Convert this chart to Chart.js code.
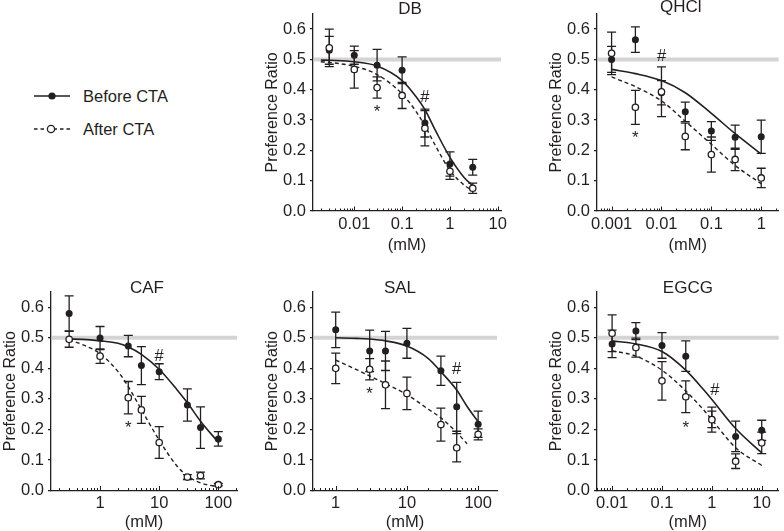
<!DOCTYPE html>
<html>
<head>
<meta charset="utf-8">
<script src="https://cdn.jsdelivr.net/npm/chart.js@4.4.0/dist/chart.umd.min.js"></script>
<style>
  body { margin: 0; background: #fff; width: 784px; height: 531px; position: relative; overflow: hidden;
         font-family: 'Liberation Sans', Arial, sans-serif; color: #231f20; }
  canvas { position: absolute; }
  .leg { position: absolute; left: 0; width: 200px; height: 20px; }
  .leg svg { position: absolute; left: 30px; top: 2px; }
  .leg span { position: absolute; left: 83px; top: 0; font-size: 16.5px; line-height: 20px; white-space: nowrap; }
</style>
</head>
<body>
<div class="leg" style="top:86px">
  <svg width="44" height="16"><line x1="4" y1="8" x2="40" y2="8" stroke="#231f20" stroke-width="1.5"/><circle cx="22" cy="8" r="3.6" fill="#231f20"/></svg>
  <span>Before CTA</span>
</div>
<div class="leg" style="top:119px">
  <svg width="44" height="16"><line x1="4" y1="8" x2="40" y2="8" stroke="#231f20" stroke-width="1.4" stroke-dasharray="3.5 3"/><circle cx="21" cy="8" r="3.6" fill="#fff" stroke="#231f20" stroke-width="1.3"/></svg>
  <span>After CTA</span>
</div>

<canvas id="db" width="250" height="255" style="left:263px;top:0px"></canvas>
<canvas id="qhcl" width="237" height="255" style="left:547px;top:0px"></canvas>
<canvas id="caf" width="248" height="262" style="left:1px;top:270px"></canvas>
<canvas id="sal" width="246" height="262" style="left:263px;top:270px"></canvas>
<canvas id="egcg" width="237" height="262" style="left:547px;top:270px"></canvas>

<script>
// y ticks shared by all panels
const yTicks = [0, 0.1, 0.2, 0.3, 0.4, 0.5, 0.6];

// DB
const dbConc = [0.003, 0.01, 0.03, 0.1, 0.3, 1, 3];
const dbBefore = [0.53, 0.514, 0.481, 0.464, 0.29, 0.155, 0.144];
const dbBeforeErr = [0.046, 0.03, 0.052, 0.044, 0.046, 0.04, 0.026];
const dbAfter = [0.538, 0.467, 0.407, 0.381, 0.273, 0.131, 0.075];
const dbAfterErr = [0.062, 0.062, 0.035, 0.043, 0.058, 0.027, 0.017];
const dbFitX = [0.002, 0.003, 0.01, 0.03, 0.1, 0.2, 0.3, 0.5, 1, 2, 3];
const dbFitBefore = [0.498, 0.497, 0.492, 0.478, 0.43, 0.375, 0.334, 0.265, 0.177, 0.11, 0.084];
const dbFitAfter = [0.492, 0.49, 0.477, 0.45, 0.386, 0.326, 0.281, 0.215, 0.134, 0.085, 0.067];
const dbTicks = [0.01, 0.1, 1, 10];

// QHCl
const qhConc = [0.001, 0.003, 0.01, 0.03, 0.1, 0.3, 1];
const qhBefore = [0.50, 0.565, 0.39, 0.327, 0.264, 0.243, 0.245];
const qhBeforeErr = [0.043, 0.042, 0.04, 0.032, 0.031, 0.04, 0.055];
const qhAfter = [0.52, 0.342, 0.393, 0.246, 0.186, 0.17, 0.109];
const qhAfterErr = [0.07, 0.056, 0.082, 0.044, 0.058, 0.037, 0.032];
const qhFitX = [0.001, 0.003, 0.01, 0.03, 0.1, 0.3, 1];
const qhFitBefore = [0.467, 0.453, 0.43, 0.39, 0.322, 0.255, 0.188];
const qhFitAfter = [0.442, 0.41, 0.363, 0.296, 0.22, 0.15, 0.09];
const qhTicks = [0.001, 0.01, 0.1, 1];

// CAF
const cafConc = [0.3, 1, 3, 5, 10, 30, 50, 100];
const cafBefore = [0.58, 0.499, 0.473, 0.409, 0.389, 0.28, 0.206, 0.169];
const cafBeforeErr = [0.057, 0.038, 0.035, 0.062, 0.026, 0.053, 0.068, 0.024];
const cafAfter = [0.495, 0.44, 0.304, 0.264, 0.157, 0.044, 0.049, 0.019];
const cafAfterErr = [0.026, 0.024, 0.053, 0.044, 0.052, 0.008, 0.011, 0.004];
const cafFitX = [0.3, 0.5, 1, 2, 3, 5, 10, 20, 30, 50, 100];
const cafFitBefore = [0.496, 0.495, 0.49, 0.482, 0.47, 0.446, 0.397, 0.33, 0.287, 0.227, 0.158];
const cafFitAfter = [0.493, 0.478, 0.448, 0.39, 0.34, 0.265, 0.165, 0.08, 0.048, 0.025, 0.012];
const cafTicks = [1, 10, 100];

// SAL
const salConc = [1, 3, 5, 10, 30, 50, 100];
const salBefore = [0.526, 0.457, 0.457, 0.482, 0.392, 0.274, 0.217];
const salBeforeErr = [0.058, 0.068, 0.064, 0.049, 0.048, 0.08, 0.043];
const salAfter = [0.40, 0.397, 0.346, 0.318, 0.216, 0.14, 0.184];
const salAfterErr = [0.05, 0.035, 0.078, 0.053, 0.054, 0.046, 0.018];
const salFitX = [1, 2, 3, 5, 10, 20, 30, 50, 70, 100];
const salFitBefore = [0.50, 0.498, 0.496, 0.49, 0.473, 0.432, 0.389, 0.329, 0.275, 0.225];
const salFitXAfter = [1, 2, 3, 5, 10, 20, 30, 50, 70];
const salFitAfter = [0.427, 0.395, 0.375, 0.35, 0.314, 0.266, 0.238, 0.19, 0.153];
const salTicks = [1, 10, 100];

// EGCG
const egConc = [0.01, 0.03, 0.1, 0.3, 1, 3, 10];
const egBefore = [0.48, 0.522, 0.475, 0.44, 0.233, 0.177, 0.197];
const egBeforeErr = [0.045, 0.028, 0.042, 0.05, 0.027, 0.05, 0.033];
const egAfter = [0.515, 0.468, 0.359, 0.307, 0.232, 0.096, 0.156];
const egAfterErr = [0.06, 0.031, 0.063, 0.052, 0.041, 0.024, 0.035];
const egFitX = [0.01, 0.03, 0.1, 0.3, 0.7, 1, 3, 10];
const egFitBefore = [0.49, 0.48, 0.455, 0.394, 0.328, 0.298, 0.203, 0.123];
const egFitAfter = [0.458, 0.44, 0.394, 0.326, 0.262, 0.232, 0.14, 0.082];
const egTicks = [0.01, 0.1, 1, 10];

// significance marks [x, y]
const dbStar = [0.03, 0.34], dbHash = [0.3, 0.378];
const qhStar = [0.003, 0.254], qhHash = [0.01, 0.513];
const cafStar = [3, 0.218], cafHash = [10, 0.444];
const salStar = [3, 0.33], salHash = [50, 0.40];
const egStar = [0.3, 0.217], egHash = [1.15, 0.334];

const ink = '#231f20';
Chart.defaults.font.family = "'Liberation Sans', Arial, sans-serif";
Chart.defaults.color = ink;

function pts(xs, ys) {
  return xs.map((x, i) => ({ x: x, y: ys[i] }));
}

const panelDeco = {
  id: 'panelDeco',
  beforeDatasetsDraw(chart, args, opts) {
    const ctx = chart.ctx, area = chart.chartArea;
    const xs = chart.scales.x, ys = chart.scales.y;
    ctx.save();
    // reference line at 0.5
    const y5 = ys.getPixelForValue(0.5);
    ctx.strokeStyle = '#d4d4d4';
    ctx.lineWidth = 4;
    ctx.beginPath();
    ctx.moveTo(area.left + 1, y5);
    ctx.lineTo(area.right, y5);
    ctx.stroke();
    // error bars
    ctx.strokeStyle = ink;
    ctx.lineWidth = 1.3;
    chart.data.datasets.forEach(ds => {
      if (!ds.errorBars) return;
      ds.data.forEach((p, i) => {
        const e = ds.errorBars[i];
        const px = xs.getPixelForValue(p.x);
        const top = ys.getPixelForValue(p.y + e);
        const bot = ys.getPixelForValue(p.y - e);
        ctx.beginPath();
        ctx.moveTo(px, top); ctx.lineTo(px, bot);
        ctx.moveTo(px - 4.5, top); ctx.lineTo(px + 4.5, top);
        ctx.moveTo(px - 4.5, bot); ctx.lineTo(px + 4.5, bot);
        ctx.stroke();
      });
    });
    ctx.restore();
  },
  afterDatasetsDraw(chart, args, opts) {
    const ctx = chart.ctx;
    const xs = chart.scales.x, ys = chart.scales.y;
    ctx.save();
    ctx.fillStyle = ink;
    ctx.textAlign = 'center';
    ctx.textBaseline = 'alphabetic';
    opts.marks.forEach(m => {
      ctx.font = (m.t === '*' ? '17px' : '16.5px') + " 'Liberation Sans', Arial, sans-serif";
      const mt = ctx.measureText(m.t);
      const cy = ys.getPixelForValue(m.p[1]);
      ctx.fillText(m.t, xs.getPixelForValue(m.p[0]), cy + (mt.actualBoundingBoxAscent - mt.actualBoundingBoxDescent) / 2);
    });
    ctx.restore();
  },
  afterDraw(chart, args, opts) {
    const ctx = chart.ctx, area = chart.chartArea;
    const xs = chart.scales.x;
    ctx.save();
    // log minor / major tick marks pointing into the plot
    ctx.strokeStyle = ink;
    ctx.lineWidth = 1;
    const lo = Math.floor(Math.log10(xs.min)), hi = Math.ceil(Math.log10(xs.max));
    for (let n = lo; n <= hi; n++) {
      for (let k = 1; k <= 9; k++) {
        const v = k * Math.pow(10, n);
        if (v < xs.min || v > xs.max) continue;
        const px = Math.round(xs.getPixelForValue(v)) + 0.5;
        ctx.beginPath();
        ctx.moveTo(px, area.bottom);
        ctx.lineTo(px, area.bottom - (k === 1 ? 4.5 : 2.5));
        ctx.stroke();
      }
    }
    // panel title
    ctx.fillStyle = ink;
    ctx.font = "17px 'Liberation Sans', Arial, sans-serif";
    ctx.textAlign = 'center';
    ctx.textBaseline = 'alphabetic';
    const mt = ctx.measureText(opts.title);
    ctx.fillText(opts.title, (area.left + area.right) / 2 + opts.dx,
      opts.ty + (mt.actualBoundingBoxAscent - mt.actualBoundingBoxDescent) / 2);
    ctx.restore();
  }
};

function panel(id, p) {
  new Chart(document.getElementById(id), {
    type: 'scatter',
    data: {
      datasets: [
        { label: 'After CTA', data: pts(p.conc, p.after), errorBars: p.afterErr,
          pointRadius: 3.2, pointBackgroundColor: '#fff', pointBorderColor: ink, pointBorderWidth: 1.3 },
        { label: 'Before CTA', data: pts(p.conc, p.before), errorBars: p.beforeErr,
          pointRadius: 3.5, pointBackgroundColor: ink, pointBorderColor: ink, pointBorderWidth: 0 },
        { data: pts(p.fitX, p.fitBefore), showLine: true, pointRadius: 0, borderColor: ink,
          borderWidth: 1.6, cubicInterpolationMode: 'monotone' },
        { data: pts(p.fitXAfter || p.fitX, p.fitAfter), showLine: true, pointRadius: 0, borderColor: ink,
          borderWidth: 1.4, borderDash: [4, 3], cubicInterpolationMode: 'monotone' }
      ]
    },
    options: {
      responsive: false,
      animation: false,
      events: [],
      layout: { padding: { top: p.padTop, right: p.padRight, left: 0, bottom: 0 } },
      plugins: {
        legend: { display: false },
        tooltip: { enabled: false },
        panelDeco: { title: p.title, dx: p.dx, ty: p.ty, marks: [{ t: '*', p: p.star }, { t: '#', p: p.hash }] }
      },
      scales: {
        x: {
          type: 'logarithmic',
          min: p.xMin, max: p.xMax,
          afterBuildTicks: s => { s.ticks = p.ticks.map(v => ({ value: v })); },
          afterFit: s => { s.height = p.xAxisH; },
          grid: { display: false, drawTicks: false },
          border: { display: true, color: ink, width: 1.3 },
          ticks: { color: ink, font: { size: 16.5 }, padding: 3.5, autoSkip: false, maxRotation: 0,
                   callback: v => String(v) },
          title: { display: true, text: '(mM)', color: ink, font: { size: 16.5 }, padding: 0 }
        },
        y: {
          min: 0, max: 0.65,
          afterBuildTicks: s => { s.ticks = yTicks.map(v => ({ value: v })); },
          afterFit: s => { s.width = 50; },
          grid: { drawOnChartArea: false, drawTicks: true, tickLength: 3, color: ink, lineWidth: 1.2 },
          border: { display: true, color: ink, width: 1.3 },
          ticks: { color: ink, font: { size: 16.5 }, padding: 4, callback: v => v.toFixed(1) },
          title: { display: true, text: 'Preference Ratio', color: ink, font: { size: 16 }, padding: 0 }
        }
      }
    },
    plugins: [panelDeco]
  });
}

panel('db', { title: 'DB', dx: 3, ty: 7.5, padTop: 12, padRight: 12, xAxisH: 44,
  conc: dbConc, before: dbBefore, beforeErr: dbBeforeErr, after: dbAfter, afterErr: dbAfterErr,
  fitX: dbFitX, fitBefore: dbFitBefore, fitAfter: dbFitAfter,
  xMin: 0.00137, xMax: 11.7, ticks: dbTicks, star: dbStar, hash: dbHash });

panel('qhcl', { title: 'QHCl', dx: -7, ty: 7.5, padTop: 12, padRight: 0, xAxisH: 44,
  conc: qhConc, before: qhBefore, beforeErr: qhBeforeErr, after: qhAfter, afterErr: qhAfterErr,
  fitX: qhFitX, fitBefore: qhFitBefore, fitAfter: qhFitAfter,
  xMin: 0.00051, xMax: 2.24, ticks: qhTicks, star: qhStar, hash: qhHash });

panel('caf', { title: 'CAF', dx: 3, ty: 17, padTop: 22, padRight: 12, xAxisH: 41.5,
  conc: cafConc, before: cafBefore, beforeErr: cafBeforeErr, after: cafAfter, afterErr: cafAfterErr,
  fitX: cafFitX, fitBefore: cafFitBefore, fitAfter: cafFitAfter,
  xMin: 0.148, xMax: 207, ticks: cafTicks, star: cafStar, hash: cafHash });

panel('sal', { title: 'SAL', dx: -5, ty: 17, padTop: 22, padRight: 12, xAxisH: 41.5,
  conc: salConc, before: salBefore, beforeErr: salBeforeErr, after: salAfter, afterErr: salAfterErr,
  fitX: salFitX, fitBefore: salFitBefore, fitXAfter: salFitXAfter, fitAfter: salFitAfter,
  xMin: 0.48, xMax: 184, ticks: salTicks, star: salStar, hash: salHash });

panel('egcg', { title: 'EGCG', dx: 0, ty: 17, padTop: 22, padRight: 0, xAxisH: 41.5,
  conc: egConc, before: egBefore, beforeErr: egBeforeErr, after: egAfter, afterErr: egAfterErr,
  fitX: egFitX, fitBefore: egFitBefore, fitAfter: egFitAfter,
  xMin: 0.00498, xMax: 21.9, ticks: egTicks, star: egStar, hash: egHash });
</script>
</body>
</html>
